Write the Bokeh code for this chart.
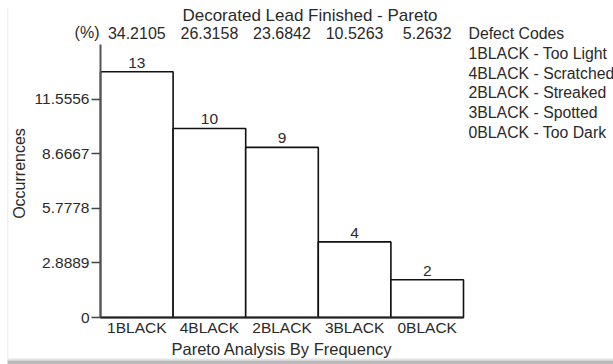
import math
from bokeh.plotting import figure
from bokeh.models import Range1d, FixedTicker, ColumnDataSource
from bokeh.core.properties import value
from bokeh.embed import file_html
from bokeh.resources import INLINE

# ---- data ----
categories = ["1BLACK", "4BLACK", "2BLACK", "3BLACK", "0BLACK"]
occurrences = [13, 10, 9, 4, 2]
percentages = ["34.2105", "26.3158", "23.6842", "10.5263", "5.2632"]
descriptions = ["Too Light", "Scratched", "Streaked", "Spotted", "Too Dark"]
y_ticks = [0, 2.8889, 5.7778, 8.6667, 11.5556]
y_tick_labels = ["0", "2.8889", "5.7778", "8.6667", "11.5556"]
y_max = 14.4444
title_text = "Decorated Lead Finished - Pareto"
legend_title = "Defect Codes"
pct_prefix = "(%)"
y_title = "Occurrences"
x_title = "Pareto Analysis By Frequency"

FONT = "Liberation Sans"
TXT = "#2a2a2a"

# ---- geometry: frame covers the whole canvas; axes are pinned with fixed_location ----
W, H = 613, 364
PX0, PX1 = 100, 463          # picture x of category span
PY0, PYT = 317, 44           # picture y of value 0 and of y_max
PPX = (PX1 - PX0) / len(categories)
PPY = (PY0 - PYT) / y_max
def xd(px):
    return (px - PX0) / PPX
def yd(py):
    return (PY0 - py) / PPY

x_start = xd(0)
y_start = yd(H)
p = figure(width=W, height=H, output_backend="svg", toolbar_location=None,
           x_range=Range1d(x_start, x_start + W / PPX),
           y_range=Range1d(y_start, y_start + H / PPY),
           min_border=0)
p.outline_line_color = None
p.grid.visible = False
p.background_fill_color = "white"
p.border_fill_color = "white"

# window frame decoration (bottom bevel and faint left edge)
p.quad(left=[xd(7)], right=[xd(W)], bottom=[yd(360)], top=[yd(358)],
       fill_color="#e4e4e4", line_color=None)
p.quad(left=[xd(7)], right=[xd(W)], bottom=[yd(H)], top=[yd(360)],
       fill_color="#b9b9b9", line_color=None)
p.quad(left=[xd(6.5)], right=[xd(8)], bottom=[yd(358)], top=[yd(8)],
       fill_color="#f1f1f1", line_color=None)

xpos = [i + 0.5 for i in range(len(categories))]
src = ColumnDataSource(dict(x=xpos, occ=occurrences,
                            lab=[str(v) for v in occurrences],
                            ly=[v + 4 / PPY for v in occurrences],
                            pct=percentages))
p.vbar(x="x", top="occ", width=1.0, source=src, fill_color="white",
       line_color="#111111", line_width=1.6)
# value labels above bars
p.text(x="x", y="ly", text="lab", source=src, text_align="center",
       text_baseline="bottom", text_font=value(FONT),
       text_font_size="15.5px", text_color=TXT)
# percentage row
p.text(x="x", y=yd(32), text="pct", source=src, text_align="center",
       text_baseline="middle", text_font=value(FONT),
       text_font_size="16px", text_color=TXT)
p.text(x=[xd(99)], y=[yd(32)], text=[pct_prefix], text_align="right",
       text_baseline="middle", text_font=value(FONT),
       text_font_size="16px", text_color=TXT)
# title
p.text(x=[xd(309.5)], y=[yd(15)], text=[title_text], text_align="center",
       text_baseline="middle", text_font=value(FONT),
       text_font_size="17px", text_color=TXT)
# y axis title (rotated)
p.text(x=[xd(19)], y=[yd(173)], text=[y_title], text_align="center",
       text_baseline="middle", angle=math.pi / 2, text_font=value(FONT),
       text_font_size="16px", text_color=TXT)
# defect code legend
leg_text = [legend_title] + [f"{c} - {d}" for c, d in zip(categories, descriptions)]
leg_y = [yd(33 + i * 19.8) for i in range(len(leg_text))]
p.text(x=[xd(468)] * len(leg_text), y=leg_y, text=leg_text, text_align="left",
       text_baseline="middle", text_font=value(FONT),
       text_font_size="15.8px", text_color=TXT)

# y axis
ya = p.yaxis[0]
ya.fixed_location = 0
ya.bounds = (0, y_max)
ya.ticker = FixedTicker(ticks=y_ticks)
ya.major_label_overrides = {t: l for t, l in zip(y_ticks, y_tick_labels)}
ya.minor_tick_line_color = None
ya.major_tick_out = 9
ya.major_tick_in = 0
ya.major_tick_line_color = "#444444"
ya.major_tick_line_width = 1.5
ya.axis_line_color = "#555555"
ya.axis_line_width = 2
ya.major_label_standoff = 2
ya.major_label_text_font = FONT
ya.major_label_text_font_size = "15.5px"
ya.major_label_text_color = TXT

# x axis
xa = p.xaxis[0]
xa.fixed_location = 0
xa.bounds = (0, len(categories))
xa.ticker = FixedTicker(ticks=xpos)
xa.major_label_overrides = {t: c for t, c in zip(xpos, categories)}
xa.major_tick_line_color = None
xa.minor_tick_line_color = None
xa.major_tick_out = 0
xa.major_tick_in = 0
xa.axis_line_color = "#222222"
xa.axis_line_width = 2
xa.major_label_standoff = 1
xa.major_label_text_font = FONT
xa.major_label_text_font_size = "15.5px"
xa.major_label_text_color = TXT
xa.axis_label = x_title
xa.axis_label_text_font = FONT
xa.axis_label_text_font_size = "16.5px"
xa.axis_label_text_font_style = "normal"
xa.axis_label_text_color = TXT
xa.axis_label_standoff = 1

open("out.html", "w").write(file_html(p, INLINE))
